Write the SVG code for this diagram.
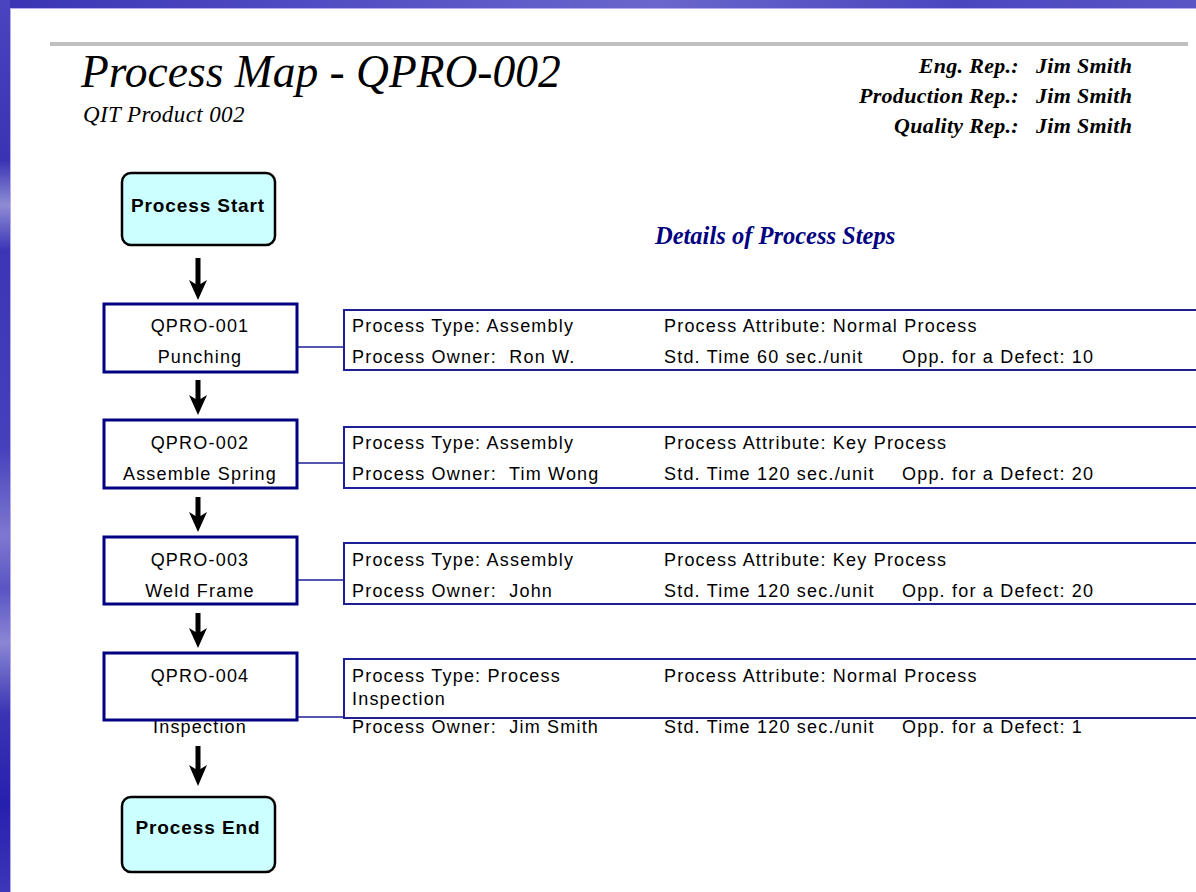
<svg xmlns="http://www.w3.org/2000/svg" width="1196" height="892" viewBox="0 0 1196 892">
<defs>
<linearGradient id="lg" x1="0" y1="0" x2="0" y2="1">
<stop offset="0" stop-color="#4a44c0"/>
<stop offset="0.18" stop-color="#3a34b4"/>
<stop offset="0.23" stop-color="#8f8cd6"/>
<stop offset="0.28" stop-color="#3c36b6"/>
<stop offset="0.5" stop-color="#4540bc"/>
<stop offset="0.6" stop-color="#7d78cf"/>
<stop offset="0.66" stop-color="#5a54c4"/>
<stop offset="0.72" stop-color="#8a86d4"/>
<stop offset="0.8" stop-color="#3a34b4"/>
<stop offset="0.9" stop-color="#2620ae"/>
<stop offset="1" stop-color="#3c36b8"/>
</linearGradient>
<linearGradient id="tg" x1="0" y1="0" x2="1" y2="0">
<stop offset="0" stop-color="#3a34b4"/>
<stop offset="0.3" stop-color="#5450c4"/>
<stop offset="0.55" stop-color="#6a66cc"/>
<stop offset="0.8" stop-color="#4a46be"/>
<stop offset="1" stop-color="#5a56c6"/>
</linearGradient>
</defs>
<style>
.serif{font-family:"Liberation Serif","Times New Roman",serif;font-style:italic}
.hdr{font-family:"Liberation Serif","Times New Roman",serif;font-style:italic;font-weight:bold;font-size:22px;letter-spacing:0.3px;fill:#000}
.t{font-family:"Liberation Sans",Arial,sans-serif;font-size:18px;letter-spacing:1.2px;fill:#000}
.c{text-anchor:middle}
.term{fill:#ccffff;stroke:#000;stroke-width:2.5}
.termt{font-family:"Liberation Sans",Arial,sans-serif;font-size:19px;font-weight:bold;letter-spacing:0.9px;text-anchor:middle;fill:#000}
.step{fill:none;stroke:#000080;stroke-width:3}
.det{fill:none;stroke:#1e1e96;stroke-width:2}
.link{stroke:#1e1e96;stroke-width:1.6;fill:none}
.arr{fill:#000}
</style>
<rect x="0" y="0" width="1196" height="892" fill="#ffffff"/>
<rect x="0" y="0" width="1196" height="9" fill="url(#tg)"/>
<rect x="0" y="0" width="10" height="892" fill="url(#lg)"/>
<rect x="10" y="9" width="1" height="883" fill="#b4aef0"/>
<rect x="10" y="8" width="1186" height="1" fill="#b4aef0"/>
<rect x="50" y="42" width="1138" height="4" fill="#c0c0c0"/>

<g id="header">
<text class="serif" x="81" y="87" font-size="45.5">Process Map - QPRO-002</text>
<text class="serif" x="83" y="122" font-size="23" letter-spacing="0.4">QIT Product 002</text>
<text class="hdr" x="1019" y="73" text-anchor="end">Eng. Rep.:</text>
<text class="hdr" x="1019" y="103" text-anchor="end">Production Rep.:</text>
<text class="hdr" x="1019" y="133" text-anchor="end">Quality Rep.:</text>
<text class="hdr" x="1036" y="73">Jim Smith</text>
<text class="hdr" x="1036" y="103">Jim Smith</text>
<text class="hdr" x="1036" y="133">Jim Smith</text>
<text class="serif" x="655" y="244" font-size="24.5" font-weight="bold" fill="#000080">Details of Process Steps</text>
</g>

<g id="connectors">
<polygon class="arr" points="195.5,258 200.5,258 200.5,284 207,280 198,300 189,280 195.5,284"/>
<polygon class="arr" points="195.5,380 200.5,380 200.5,399 207,395 198,415 189,395 195.5,399"/>
<polygon class="arr" points="195.5,497 200.5,497 200.5,516 207,512 198,532 189,512 195.5,516"/>
<polygon class="arr" points="195.5,613 200.5,613 200.5,632 207,628 198,648 189,628 195.5,632"/>
<polygon class="arr" points="195.5,746 200.5,746 200.5,769 207,765 198,786 189,765 195.5,769"/>
<line class="link" x1="297" y1="347" x2="344" y2="347"/>
<line class="link" x1="297" y1="463" x2="344" y2="463"/>
<line class="link" x1="297" y1="580" x2="344" y2="580"/>
<line class="link" x1="297" y1="717" x2="344" y2="717"/>
</g>

<g id="start">
<rect class="term" x="122" y="173" width="153" height="72" rx="9"/>
<text class="termt" x="198" y="212">Process Start</text>
</g>

<g id="step1">
<text class="t c" x="200" y="332">QPRO-001</text>
<text class="t c" x="200" y="363">Punching</text>
<rect class="step" x="104" y="304" width="193" height="68"/>
</g>
<g id="detail1">
<text class="t" x="352" y="332">Process Type: Assembly</text>
<text class="t" x="352" y="363" xml:space="preserve">Process Owner:  Ron W.</text>
<text class="t" x="664" y="332">Process Attribute: Normal Process</text>
<text class="t" x="664" y="363">Std. Time 60 sec./unit</text>
<text class="t" x="902" y="363">Opp. for a Defect: 10</text>
<rect class="det" x="344" y="310" width="870" height="60"/>
</g>

<g id="step2">
<text class="t c" x="200" y="449">QPRO-002</text>
<text class="t c" x="200" y="480">Assemble Spring</text>
<rect class="step" x="104" y="420" width="193" height="68"/>
</g>
<g id="detail2">
<text class="t" x="352" y="449">Process Type: Assembly</text>
<text class="t" x="352" y="480" xml:space="preserve">Process Owner:  Tim Wong</text>
<text class="t" x="664" y="449">Process Attribute: Key Process</text>
<text class="t" x="664" y="480">Std. Time 120 sec./unit</text>
<text class="t" x="902" y="480">Opp. for a Defect: 20</text>
<rect class="det" x="344" y="427" width="870" height="61"/>
</g>

<g id="step3">
<text class="t c" x="200" y="566">QPRO-003</text>
<text class="t c" x="200" y="597">Weld Frame</text>
<rect class="step" x="104" y="537" width="193" height="67"/>
</g>
<g id="detail3">
<text class="t" x="352" y="566">Process Type: Assembly</text>
<text class="t" x="352" y="597" xml:space="preserve">Process Owner:  John</text>
<text class="t" x="664" y="566">Process Attribute: Key Process</text>
<text class="t" x="664" y="597">Std. Time 120 sec./unit</text>
<text class="t" x="902" y="597">Opp. for a Defect: 20</text>
<rect class="det" x="344" y="543" width="870" height="61"/>
</g>

<g id="step4">
<text class="t c" x="200" y="682">QPRO-004</text>
<text class="t c" x="200" y="733">Inspection</text>
<rect class="step" x="104" y="653" width="193" height="67"/>
</g>
<g id="detail4">
<text class="t" x="352" y="682">Process Type: Process</text>
<text class="t" x="352" y="705">Inspection</text>
<text class="t" x="352" y="733" xml:space="preserve">Process Owner:  Jim Smith</text>
<text class="t" x="664" y="682">Process Attribute: Normal Process</text>
<text class="t" x="664" y="733">Std. Time 120 sec./unit</text>
<text class="t" x="902" y="733">Opp. for a Defect: 1</text>
<rect class="det" x="344" y="659" width="870" height="59"/>
</g>

<g id="end">
<rect class="term" x="122" y="797" width="153" height="75" rx="9"/>
<text class="termt" x="198" y="834">Process End</text>
</g>
</svg>
